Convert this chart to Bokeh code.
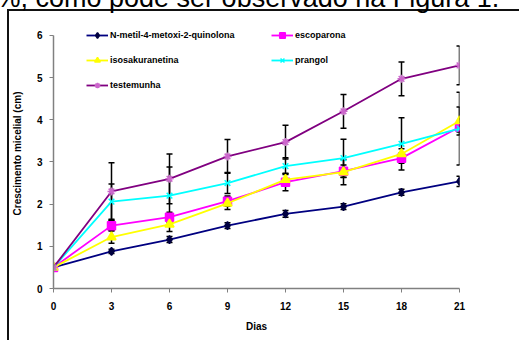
from bokeh.plotting import figure
from bokeh.models import (ColumnDataSource, Whisker, TeeHead, Legend, LegendItem,
                          FixedTicker, Range1d)
from bokeh.embed import file_html
from bokeh.resources import INLINE

dias = [0, 3, 6, 9, 12, 15, 18, 21]
x_ticks = [0, 3, 6, 9, 12, 15, 18, 21]
y_ticks = [0, 1, 2, 3, 4, 5, 6]

nmetil = [0.5, 0.88, 1.16, 1.49, 1.77, 1.94, 2.28, 2.54]
nmetil_err = [0.03, 0.05, 0.07, 0.07, 0.08, 0.07, 0.07, 0.12]
escoparona = [0.5, 1.49, 1.69, 2.07, 2.52, 2.78, 3.09, 3.83]
escoparona_err = [0.03, 0.12, 0.12, 0.12, 0.2, 0.15, 0.12, 0.12]
isosakuranetina = [0.5, 1.22, 1.52, 2.02, 2.58, 2.76, 3.19, 3.97]
isosakuranetina_err = [0.03, 0.15, 0.17, 0.15, 0.15, 0.3, 0.12, 0.33]
prangol = [0.5, 2.06, 2.2, 2.5, 2.9, 3.09, 3.43, 3.79]
prangol_err = [0.03, 0.42, 0.68, 0.25, 0.2, 0.45, 0.62, 0.86]
testemunha = [0.5, 2.3, 2.6, 3.13, 3.47, 4.2, 4.97, 5.29]
testemunha_err = [0.03, 0.68, 0.59, 0.4, 0.4, 0.4, 0.4, 0.46]

names = ["N-metil-4-metoxi-2-quinolona", "escoparona", "isosakuranetina", "prangol", "testemunha"]
series = [nmetil, escoparona, isosakuranetina, prangol, testemunha]
errors = [nmetil_err, escoparona_err, isosakuranetina_err, prangol_err, testemunha_err]
line_colors = ["#000080", "#FF00FF", "#FFFF00", "#00FFFF", "#800080"]
marker_colors = ["#000040", "#FF00FF", "#FFFF00", "#00FFFF", "#CC66CC"]
markers = ["diamond", "square", "triangle", "x", "asterisk"]
marker_sizes = [8, 8, 9, 8, 8]

top_text = "%, como pode ser observado na Figura 1."

FONT = "Liberation Sans"
SHIFT = 40  # canvas extends above the window so the cut-off line of body text fits

p = figure(width=519, height=340 + SHIFT, output_backend="svg", toolbar_location=None,
           x_range=Range1d(0, 21), y_range=Range1d(0, 6.4),
           min_border_left=53, min_border_right=60, min_border_top=18 + SHIFT,
           min_border_bottom=52)
p.styles = {
    "margin-top": f"-{SHIFT}px",
    "overflow": "hidden",
    "background-color": "white",
    "background-image": "linear-gradient(#111,#111), linear-gradient(#111,#111)",
    "background-size": "2px 100%, 100% 2px",
    "background-position": f"7px {9 + SHIFT}px, 7px {9 + SHIFT}px",
    "background-repeat": "no-repeat",
}
p.outline_line_color = None
p.grid.visible = False
p.background_fill_color = "white"
p.border_fill_alpha = 0

p.title.text = top_text
p.title.align = "left"
p.title.offset = -57
p.title.standoff = 11
p.title.vertical_align = "bottom"
p.title.text_font = FONT
p.title.text_font_size = "27px"
p.title.text_font_style = "normal"
p.title.text_color = "black"

for ax in (p.xaxis[0], p.yaxis[0]):
    ax.axis_line_color = "#808080"
    ax.axis_line_width = 1.5
    ax.major_tick_line_color = "#808080"
    ax.major_tick_out = 4
    ax.major_tick_in = 0
    ax.minor_tick_line_color = None
    ax.major_label_text_font = FONT
    ax.major_label_text_font_size = "10px"
    ax.major_label_text_font_style = "bold"
    ax.major_label_text_color = "black"
    ax.axis_label_text_font = FONT
    ax.axis_label_text_font_size = "10px"
    ax.axis_label_text_font_style = "bold"
    ax.axis_label_text_color = "black"

p.xaxis[0].ticker = FixedTicker(ticks=x_ticks)
p.yaxis[0].ticker = FixedTicker(ticks=y_ticks)
p.yaxis[0].bounds = (0, 6)
p.xaxis[0].axis_label = "Dias"
p.yaxis[0].axis_label = "Crescimento micelial (cm)"
p.xaxis[0].major_label_standoff = 9
p.yaxis[0].major_label_standoff = 7
p.xaxis[0].axis_label_standoff = 8
p.yaxis[0].axis_label_standoff = 11

items = []
for name, ys, errs, lc, mc, mk, ms in zip(names, series, errors, line_colors, marker_colors, markers, marker_sizes):
    src = ColumnDataSource(dict(x=dias, y=ys,
                                lo=[a - b for a, b in zip(ys, errs)],
                                hi=[a + b for a, b in zip(ys, errs)]))
    r1 = p.line("x", "y", source=src, line_color=lc, line_width=1.8)
    r2 = p.scatter("x", "y", source=src, marker=mk, size=ms, fill_color=mc,
                   line_color=mc, line_width=1.5)
    items.append(LegendItem(label=name, renderers=[r1, r2]))
    w = Whisker(source=src, base="x", lower="lo", upper="hi", line_color="black",
                line_width=1.5,
                upper_head=TeeHead(size=6, line_color="black", line_width=1.5),
                lower_head=TeeHead(size=6, line_color="black", line_width=1.5))
    p.add_layout(w)

legend = Legend(items=items, orientation="horizontal", ncols=2,
                location=(33, 196), glyph_width=22, glyph_height=14,
                label_height=14, label_standoff=2, spacing=11, label_width=150,
                padding=0, margin=0,
                label_text_font=FONT, label_text_font_size="9px",
                label_text_font_style="bold", label_text_color="black",
                border_line_alpha=0, background_fill_alpha=0)
p.add_layout(legend, "center")

open("out.html", "w").write(file_html(p, INLINE))
